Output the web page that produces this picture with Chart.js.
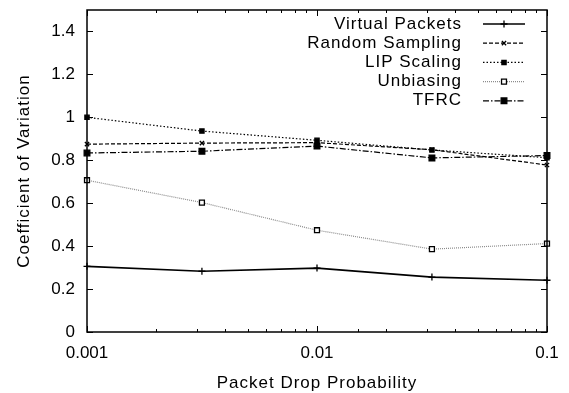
<!DOCTYPE html>
<html>
<head>
<meta charset="utf-8">
<script src="https://cdn.jsdelivr.net/npm/chart.js@4/dist/chart.umd.min.js"></script>
<style>
  html, body { margin: 0; padding: 0; background: #fff; }
  #box { width: 569px; height: 393px; }
</style>
</head>
<body>
<div id="box"><canvas id="cov" width="569" height="393"></canvas></div>
<script>
// drop probabilities on the x axis (log scale)
var probs = [0.001, 0.00316, 0.01, 0.0316, 0.1];

// coefficient of variation for each method
var virtualPackets = [0.306, 0.283, 0.298, 0.256, 0.241];
var randomSampling = [0.875, 0.880, 0.882, 0.849, 0.778];
var lipScaling     = [1.000, 0.936, 0.893, 0.848, 0.812];
var unbiasing      = [0.707, 0.603, 0.474, 0.386, 0.412];
var tfrc           = [0.834, 0.842, 0.866, 0.811, 0.822];

var seriesNames = ["Virtual Packets", "Random Sampling", "LIP Scaling", "Unbiasing", "TFRC"];
var yTickLabels = ["0", "0.2", "0.4", "0.6", "0.8", "1", "1.2", "1.4"];
var xTickLabels = ["0.001", "0.01", "0.1"];
var xTitle = "Packet Drop Probability";
var yTitle = "Coefficient of Variation";

var FONT = "'Liberation Sans', Arial, Helvetica, sans-serif";

function pts(arr) {
  return probs.map(function (p, i) { return { x: p, y: arr[i] }; });
}

function isDecade(v) {
  var l = Math.log10(v);
  return Math.abs(l - Math.round(l)) < 1e-6;
}

// gnuplot style frame with inward tick marks on all four sides
var frameTicks = {
  id: "frameTicks",
  afterDatasetsDraw: function (chart) {
    var ctx = chart.ctx, a = chart.chartArea;
    var xs = chart.scales.x, ys = chart.scales.y;
    ctx.save();
    ctx.strokeStyle = "#000";
    ctx.lineWidth = 1;
    ctx.beginPath();
    xs.ticks.forEach(function (t) {
      var px = Math.round(xs.getPixelForValue(t.value)) + 0.5;
      var len = isDecade(t.value) ? 6 : 3;
      ctx.moveTo(px, a.bottom); ctx.lineTo(px, a.bottom - len);
      ctx.moveTo(px, a.top); ctx.lineTo(px, a.top + len);
    });
    ys.ticks.forEach(function (t) {
      var py = Math.round(ys.getPixelForValue(t.value)) + 0.5;
      ctx.moveTo(a.left, py); ctx.lineTo(a.left + 6, py);
      ctx.moveTo(a.right, py); ctx.lineTo(a.right - 6, py);
    });
    ctx.stroke();
    ctx.lineWidth = 1.5;
    ctx.strokeRect(a.left, a.top, a.right - a.left, a.bottom - a.top);
    ctx.restore();
  }
};

// axis titles, drawn a little wider spaced than the tick labels
var axisTitles = {
  id: "axisTitles",
  afterDraw: function (chart) {
    var ctx = chart.ctx, a = chart.chartArea;
    ctx.save();
    ctx.font = "17px " + FONT;
    ctx.letterSpacing = "1px";
    ctx.fillStyle = "#000";
    ctx.textAlign = "center";
    ctx.textBaseline = "middle";
    ctx.fillText(xTitle, (a.left + a.right) / 2, 383);
    ctx.translate(24, (a.top + a.bottom) / 2);
    ctx.rotate(-Math.PI / 2);
    ctx.fillText(yTitle, 0, 0);
    ctx.restore();
  }
};

// key in the top right corner: right aligned names, then a line sample
var keyBox = {
  id: "keyBox",
  afterDraw: function (chart) {
    var ctx = chart.ctx;
    var textRight = 462, lineL = 483, lineR = 525, y0 = 24, step = 19.2;
    ctx.save();
    ctx.font = "17px " + FONT;
    ctx.letterSpacing = "1px";
    ctx.textAlign = "right";
    ctx.textBaseline = "middle";
    chart.data.datasets.forEach(function (ds, i) {
      var y = y0 + i * step;
      ctx.fillStyle = "#000";
      ctx.fillText(ds.label, textRight, y);
      ctx.save();
      ctx.strokeStyle = ds.borderColor;
      ctx.lineWidth = ds.borderWidth;
      ctx.setLineDash(ds.borderDash || []);
      ctx.beginPath();
      ctx.moveTo(lineL, y); ctx.lineTo(lineR, y);
      ctx.stroke();
      ctx.restore();
      ctx.fillStyle = ds.pointBackgroundColor;
      ctx.strokeStyle = ds.pointBorderColor;
      ctx.lineWidth = ds.pointBorderWidth;
      Chart.helpers.drawPoint(ctx, {
        pointStyle: ds.pointStyle, radius: ds.pointRadius, rotation: 0, borderWidth: ds.pointBorderWidth
      }, (lineL + lineR) / 2, y);
    });
    ctx.restore();
  }
};

function series(name, arr, color, width, dash, style, radius, fill, ptBorder) {
  return {
    label: name,
    data: pts(arr),
    borderColor: color,
    borderWidth: width,
    borderDash: dash,
    pointStyle: style,
    pointRadius: radius,
    pointBackgroundColor: fill,
    pointBorderColor: ptBorder,
    pointBorderWidth: 1.3,
    tension: 0,
    clip: false
  };
}

var ctx = document.getElementById("cov").getContext("2d");
var chart = new Chart(ctx, {
  type: "line",
  data: {
    datasets: [
      series(seriesNames[0], virtualPackets, "#000", 1.7, [], "cross", 3.5, "#000", "#000"),
      series(seriesNames[1], randomSampling, "#000", 1.2, [4, 2], "crossRot", 3, "#000", "#000"),
      series(seriesNames[2], lipScaling, "#000", 1.2, [1.5, 2], "rect", 3, "#000", "#000"),
      series(seriesNames[3], unbiasing, "#8c8c8c", 1.2, [1, 1], "rect", 3.5, "#fff", "#000"),
      series(seriesNames[4], tfrc, "#000", 1.2, [6, 2, 1.5, 2], "rect", 4, "#000", "#000")
    ]
  },
  options: {
    responsive: false,
    animation: false,
    layout: { padding: { left: 0, right: 22, top: 10, bottom: 0 } },
    plugins: { legend: { display: false }, tooltip: { enabled: false } },
    scales: {
      x: {
        type: "logarithmic",
        min: 0.001,
        max: 0.1,
        grid: { display: false, drawTicks: false },
        border: { display: false },
        ticks: {
          autoSkip: false,
          maxRotation: 0,
          padding: 11,
          color: "#000",
          font: { family: FONT, size: 17 },
          callback: function (v) {
            if (!isDecade(v)) return "";
            var k = xTickLabels.indexOf(String(Number(v.toPrecision(3))));
            return k >= 0 ? xTickLabels[k] : "";
          }
        },
        afterFit: function (s) { s.height = 61; s.paddingLeft = 0; s.paddingRight = 0; }
      },
      y: {
        min: 0,
        max: 1.5,
        grid: { display: false, drawTicks: false },
        border: { display: false },
        ticks: {
          stepSize: 0.2,
          padding: 12,
          color: "#000",
          font: { family: FONT, size: 17 },
          callback: function (v) {
            var k = Math.round(v / 0.2);
            return Math.abs(v - k * 0.2) < 1e-6 ? yTickLabels[k] : "";
          }
        },
        afterBuildTicks: function (s) {
          s.ticks = s.ticks.filter(function (t) { return t.value <= 1.4 + 1e-6; });
        },
        afterFit: function (s) { s.width = 87; s.paddingTop = 0; s.paddingBottom = 0; }
      }
    }
  },
  plugins: [frameTicks, axisTitles, keyBox]
});
</script>
</body>
</html>
